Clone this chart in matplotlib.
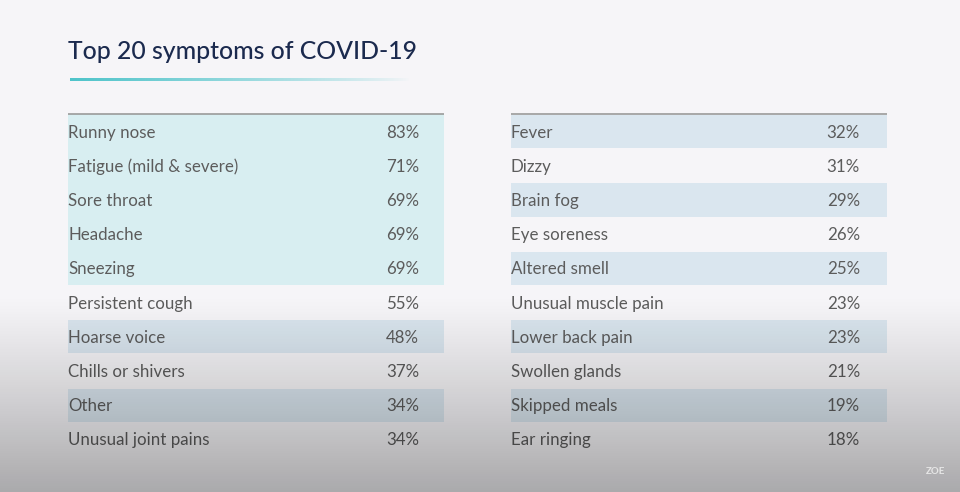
import numpy as np
import matplotlib.pyplot as plt

title = 'Top 20 symptoms of COVID-19'

left_names = ['Runny nose', 'Fatigue (mild & severe)', 'Sore throat', 'Headache',
              'Sneezing', 'Persistent cough', 'Hoarse voice', 'Chills or shivers',
              'Other', 'Unusual joint pains']
left_values = [83, 71, 69, 69, 69, 55, 48, 37, 34, 34]

right_names = ['Fever', 'Dizzy', 'Brain fog', 'Eye soreness', 'Altered smell',
               'Unusual muscle pain', 'Lower back pain', 'Swollen glands',
               'Skipped meals', 'Ear ringing']
right_values = [32, 31, 29, 26, 25, 23, 23, 21, 19, 18]

W, H = 960, 492
TOP = 114
ROW = 34.2
TEAL = '#d8eef1'
BLUE = '#dae6ef'
TXT = '#5c5c5c'

plt.rcParams['font.family'] = ['Lato', 'DejaVu Sans']

fig = plt.figure(figsize=(W / 100, H / 100), dpi=100)
ax = fig.add_axes([0, 0, 1, 1])
ax.set_xlim(0, W)
ax.set_ylim(H, 0)
ax.axis('off')
fig.patch.set_facecolor('#f6f5f8')


def draw_table(names, values, x0, x1, xval, band_rows):
    for i, (name, val) in enumerate(zip(names, values)):
        y = TOP + i * ROW
        if i in band_rows:
            ax.add_patch(plt.Rectangle((x0, y + 1), x1 - x0, ROW - 1,
                                       color=band_rows[i], lw=0, zorder=1))
        ax.text(x0, y + ROW / 2 + 1.5, name, fontsize=12.2, color=TXT,
                va='center', ha='left', zorder=3)
        ax.text(xval, y + ROW / 2 + 1.5, f'{val}%', fontsize=12.2, color=TXT,
                va='center', ha='right', zorder=3)
    ax.plot([x0, x1], [TOP, TOP], color='#9a9a9a', lw=1.2, zorder=4,
            solid_capstyle='butt')


# left: first five rows teal, as one block
ax.add_patch(plt.Rectangle((68, TOP), 376, 5 * ROW, color=TEAL, lw=0, zorder=1))
draw_table(left_names, left_values, 68, 444, 419, {6: BLUE, 8: BLUE})
draw_table(right_names, right_values, 511, 887, 860,
           {0: BLUE, 2: BLUE, 4: BLUE, 6: BLUE, 8: BLUE})

# title and fading underline
ax.text(68, 51.5, title, fontsize=17.8, color='#1b2a4e', va='center', ha='left',
        fontweight='medium', zorder=3)
n = 300
line = np.zeros((1, n, 4))
line[..., :3] = np.array([78, 196, 202]) / 255
line[..., 3] = np.linspace(1, 0, n) ** 0.8
ax.imshow(line, extent=(70, 410, 81, 78.5), aspect='auto', zorder=3)

# dark fade at the bottom of the screenshot
shade = np.zeros((H, 1, 4))
yy = np.arange(H)
shade[:, 0, 3] = np.clip((yy - 295) / (H - 295), 0, 1) ** 1.1 * 0.31
ax.imshow(shade, extent=(0, W, H, 0), aspect='auto', zorder=5)

ax.text(936, 471, 'ZOE', fontsize=7, color='#e6e6e6', fontweight='bold',
        va='center', ha='center', zorder=6)

fig.savefig('out.png', dpi=100, facecolor=fig.get_facecolor())
